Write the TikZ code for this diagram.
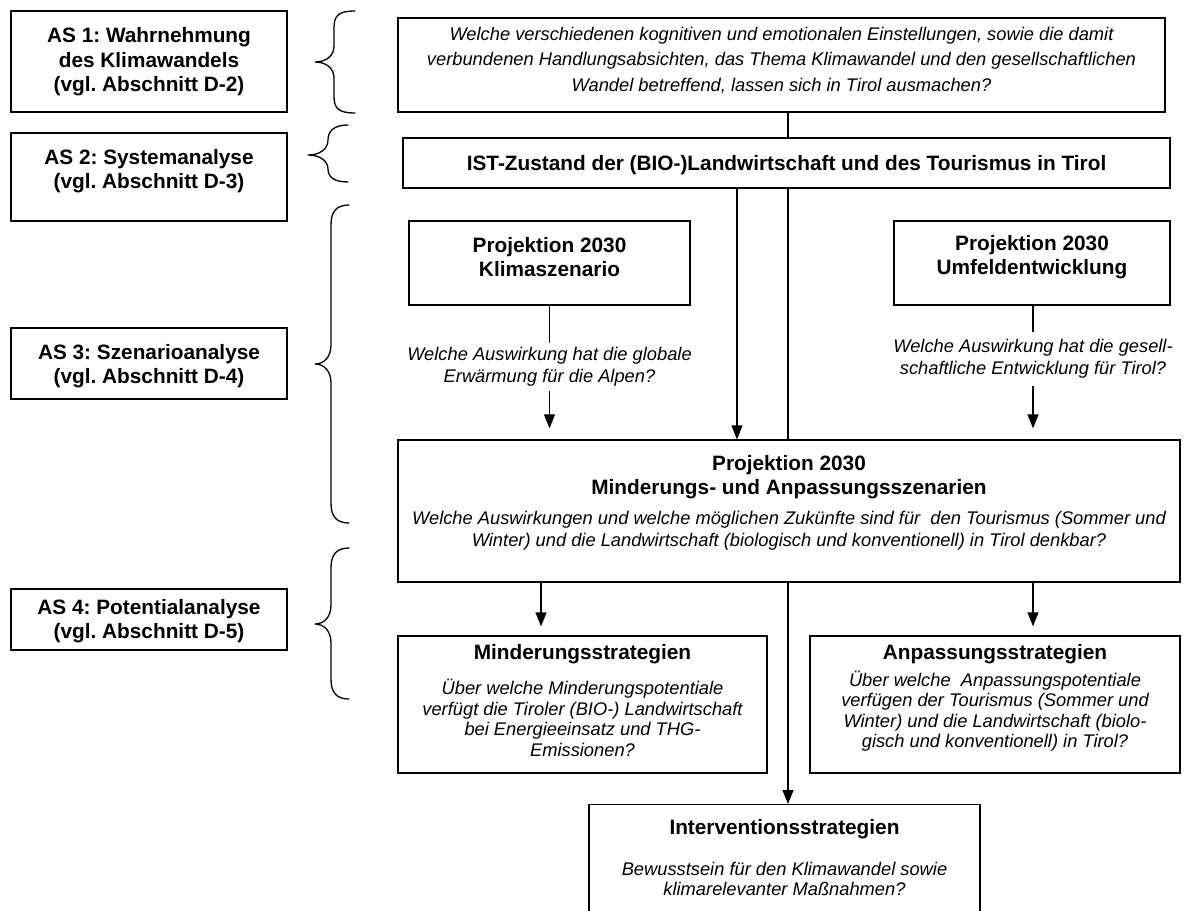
\documentclass[tikz,border=0pt]{standalone}
\usepackage{fontspec}
\setmainfont{Liberation Sans}
\usetikzlibrary{arrows.meta}
\frenchspacing
\tikzset{
  box/.style={draw=black, line width=1.3pt, fill=white, inner sep=0pt},
  bt/.style={font=\fontsize{20.8}{24}\selectfont\bfseries, align=center, inner sep=0pt},
  it/.style={font=\fontsize{18.3}{21.5}\selectfont\itshape, align=center, inner sep=0pt},
  arr/.style={line width=1.3pt, -{Triangle[length=14pt,width=11pt]}},
  ln/.style={line width=1.3pt},
  brace/.style={line width=1.3pt, line cap=round, line join=round},
}
\begin{document}
\begin{tikzpicture}[x=1pt,y=-1pt]
\useasboundingbox (0,0) rectangle (1185,910);
\clip (0,0) rectangle (1185,910);
\fill[white] (0,0) rectangle (1185,910);

% left column
\node[box, minimum width=276pt, minimum height=101pt] (as1) at (149,61.5) {};
\node[bt, font=\fontsize{20.8}{24.5}\selectfont\bfseries] (as1t) at (149,62) {AS 1: Wahrnehmung\\des Klimawandels\\(vgl. Abschnitt D-2)};
\node[box, minimum width=276pt, minimum height=88pt] (as2) at (149,177) {};
\node[bt] (as2t) at (149,171) {AS 2: Systemanalyse\\(vgl. Abschnitt D-3)};
\node[box, minimum width=276pt, minimum height=71pt] (as3) at (149,363.5) {};
\node[bt] (as3t) at (149,366) {AS 3: Szenarioanalyse\\(vgl. Abschnitt D-4)};
\node[box, minimum width=276pt, minimum height=61pt] (as4) at (149,619.5) {};
\node[bt] (as4t) at (149,621.5) {AS 4: Potentialanalyse\\(vgl. Abschnitt D-5)};

% braces
\draw[brace] (355,11) .. controls (338,11) and (334,16) .. (334,28) -- (334,46)
  .. controls (334,56) and (326,62) .. (315,62) .. controls (326,62) and (334,68) .. (334,78)
  -- (334,96) .. controls (334,108) and (338,113) .. (355,113);
\draw[brace] (348,125) .. controls (334,125) and (328,131) .. (328,140)
  .. controls (328,149) and (320,155) .. (308,155) .. controls (320,155) and (328,161) .. (328,169)
  .. controls (328,177) and (334,182) .. (348,182);
\draw[brace] (349,205) .. controls (336,205) and (331,212) .. (331,225) -- (331,345)
  .. controls (331,357) and (324,364) .. (315,364) .. controls (324,364) and (331,371) .. (331,383)
  -- (331,503) .. controls (331,516) and (336,523) .. (349,523);
\draw[brace] (349,548) .. controls (336,548) and (331,555) .. (331,568) -- (331,605)
  .. controls (331,617) and (324,624) .. (315,624) .. controls (324,624) and (331,631) .. (331,643)
  -- (331,679) .. controls (331,692) and (336,699) .. (349,699);

% right column boxes
\node[box, minimum width=767pt, minimum height=94pt] (top) at (781.5,65) {};
\node[it, font=\fontsize{18.3}{25.5}\selectfont\itshape] (topt) at (781.5,60.5) {Welche verschiedenen kognitiven und emotionalen Einstellungen, sowie die damit\\verbundenen Handlungsabsichten, das Thema Klimawandel und den gesellschaftlichen\\Wandel betreffend, lassen sich in Tirol ausmachen?};

\node[box, minimum width=767pt, minimum height=50pt] (ist) at (786.5,163) {};
\node[bt] (istt) at (786.5,165) {IST-Zustand der (BIO-)Landwirtschaft und des Tourismus in Tirol};

\node[box, minimum width=281pt, minimum height=84pt] (klima) at (549.5,263) {};
\node[bt] (klimat) at (549.5,257) {Projektion 2030\\Klimaszenario};
\node[box, minimum width=276pt, minimum height=84pt] (umf) at (1032,263) {};
\node[bt] (umft) at (1032,257) {Projektion 2030\\Umfeldentwicklung};

\node[it, minimum height=48pt] (klimaq) at (549.5,367) {Welche Auswirkung hat die globale\\Erwärmung für die Alpen?};
\node[it, minimum height=54pt] (umfq) at (1033,359) {Welche Auswirkung hat die gesell-\\schaftliche Entwicklung für Tirol?};

\node[box, minimum width=782pt, minimum height=142pt] (proj) at (789,511) {};
\node[bt] (projt) at (789,477) {Projektion 2030\\Minderungs- und Anpassungsszenarien};
\node[it] (projq) at (789,531) {Welche Auswirkungen und welche möglichen Zukünfte sind für~ den Tourismus (Sommer und\\Winter) und die Landwirtschaft (biologisch und konventionell) in Tirol denkbar?};

\node[box, minimum width=369pt, minimum height=137pt] (mind) at (582.5,704.5) {};
\node[bt] (mindt) at (582.5,654) {Minderungsstrategien};
\node[it, font=\fontsize{18.3}{20.5}\selectfont\itshape] (mindq) at (582.5,718) {Über welche Minderungspotentiale\\verfügt die Tiroler (BIO-) Landwirtschaft\\bei Energieeinsatz und THG-\\Emissionen?};

\node[box, minimum width=370pt, minimum height=137pt] (anp) at (995,704.5) {};
\node[bt] (anpt) at (995,654) {Anpassungsstrategien};
\node[it, font=\fontsize{18.3}{20.5}\selectfont\itshape] (anpq) at (995,711) {Über welche~ Anpassungspotentiale\\verfügen der Tourismus (Sommer und\\Winter) und die Landwirtschaft (biolo-\\gisch und konventionell) in Tirol?};

\node[box, minimum width=391pt, minimum height=130pt, anchor=north] (int) at (784.5,804) {};
\node[bt] (intt) at (784.5,829) {Interventionsstrategien};
\node[it, font=\fontsize{18.3}{20.5}\selectfont\itshape] (intq) at (784.5,879) {Bewusstsein für den Klimawandel sowie\\klimarelevanter Maßnahmen?};

% connectors
\coordinate (c1) at (737,0);
\coordinate (c2) at (788,0);
\coordinate (c3) at (541,0);
\coordinate (c4) at (1033,0);
\draw[ln] (top.south -| c2) -- (ist.north -| c2);
\draw[arr] (ist.south -| c1) -- (proj.north -| c1);
\draw[ln] (ist.south -| c2) -- (proj.north -| c2);
\draw[arr] (proj.south -| c2) -- (int.north -| c2);
\draw[ln] (klima.south) -- (klimaq.north);
\draw[arr, shorten >=11pt] (klimaq.south) -- (proj.north -| klimaq.south);
\draw[ln] (umf.south -| c4) -- (umfq.north -| c4);
\draw[arr, shorten >=11pt] (umfq.south -| c4) -- (proj.north -| c4);
\draw[arr, shorten >=9pt] (proj.south -| c3) -- (mind.north -| c3);
\draw[arr, shorten >=9pt] (proj.south -| c4) -- (anp.north -| c4);
\end{tikzpicture}
\end{document}
